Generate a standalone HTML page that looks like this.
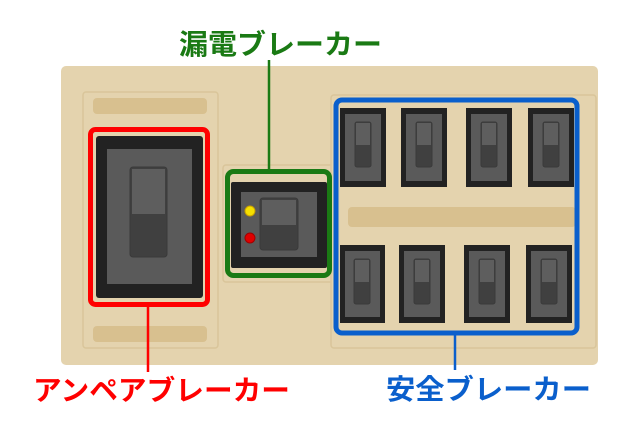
<!DOCTYPE html>
<html><head><meta charset="utf-8"><style>
html,body{margin:0;padding:0;background:#fff;}
svg{display:block;}
text{font-family:"Liberation Sans","Noto Sans CJK JP",sans-serif;font-weight:bold;font-size:28px;}
</style></head><body>
<svg width="640" height="427" viewBox="0 0 640 427" xmlns="http://www.w3.org/2000/svg">
<rect x="61" y="66" width="537" height="299" rx="5" fill="#e4d3ae"/>
<!-- left inner panel -->
<rect x="83" y="92" width="135" height="256" rx="3" fill="#e4d3ae" stroke="#d9c59a" stroke-width="1.5"/>
<rect x="93" y="98" width="114" height="16" rx="4" fill="#d8c08f"/>
<rect x="93" y="326" width="114" height="16" rx="4" fill="#d8c08f"/>
<!-- middle small panel -->
<rect x="223" y="165" width="112" height="117" rx="3" fill="#e4d3ae" stroke="#d9c59a" stroke-width="1.5"/>
<!-- right panel -->
<rect x="331" y="95" width="265" height="253" rx="3" fill="#e4d3ae" stroke="#d9c59a" stroke-width="1.5"/>
<rect x="348" y="207" width="228" height="20" rx="4" fill="#d8c08f"/>

<!-- ampere breaker -->
<rect x="96" y="136" width="107" height="162" rx="3" fill="#222"/>
<rect x="107" y="149" width="85" height="135" fill="#5a5a5a"/>
<rect x="130" y="167" width="37" height="90" rx="3" fill="#404040" stroke="#3a3a3a"/>
<rect x="132" y="169" width="33" height="45" fill="#5e5e5e"/>
<rect x="90.5" y="129.5" width="117" height="175" rx="5" fill="none" stroke="#f00" stroke-width="5"/>
<line x1="148" y1="307" x2="148" y2="372" stroke="#f00" stroke-width="2.5"/>

<!-- leak breaker -->
<rect x="231" y="182" width="96" height="86" rx="2" fill="#222"/>
<rect x="241" y="192" width="76" height="65" fill="#5a5a5a"/>
<rect x="260" y="198" width="38" height="52" rx="3" fill="#404040" stroke="#3a3a3a"/>
<rect x="262" y="200" width="34" height="25" fill="#5e5e5e"/>
<circle cx="250" cy="211" r="5" fill="#f5e000" stroke="#c9a000"/>
<circle cx="250" cy="238" r="5" fill="#e00000" stroke="#a00000"/>
<rect x="227.5" y="171.5" width="102" height="104" rx="6" fill="none" stroke="#1a7a14" stroke-width="5"/>
<line x1="269" y1="60" x2="269" y2="170" stroke="#1a7a14" stroke-width="2.5"/>

<!-- safety breakers -->
<g id="b">
</g>
<g fill="#222">
<rect x="340" y="108" width="46" height="79"/><rect x="401" y="108" width="46" height="79"/><rect x="466" y="108" width="46" height="79"/><rect x="528" y="108" width="46" height="79"/>
<rect x="340" y="245" width="45" height="78"/><rect x="399" y="245" width="46" height="78"/><rect x="464" y="245" width="46" height="78"/><rect x="526" y="245" width="46" height="78"/>
</g>
<g fill="#5a5a5a">
<rect x="345" y="114" width="36" height="67"/><rect x="406" y="114" width="36" height="67"/><rect x="471" y="114" width="36" height="67"/><rect x="533" y="114" width="36" height="67"/>
<rect x="345" y="251" width="35" height="66"/><rect x="404" y="251" width="36" height="66"/><rect x="469" y="251" width="36" height="66"/><rect x="531" y="251" width="36" height="66"/>
</g>
<g fill="#404040" stroke="#3a3a3a">
<rect x="355" y="122" width="16" height="45" rx="2"/><rect x="416" y="122" width="16" height="45" rx="2"/><rect x="481" y="122" width="16" height="45" rx="2"/><rect x="543" y="122" width="16" height="45" rx="2"/>
<rect x="354" y="259" width="16" height="45" rx="2"/><rect x="414" y="259" width="16" height="45" rx="2"/><rect x="479" y="259" width="16" height="45" rx="2"/><rect x="541" y="259" width="16" height="45" rx="2"/>
</g>
<g fill="#5e5e5e">
<rect x="356" y="123" width="14" height="22"/><rect x="417" y="123" width="14" height="22"/><rect x="482" y="123" width="14" height="22"/><rect x="544" y="123" width="14" height="22"/>
<rect x="355" y="260" width="14" height="22"/><rect x="415" y="260" width="14" height="22"/><rect x="480" y="260" width="14" height="22"/><rect x="542" y="260" width="14" height="22"/>
</g>
<rect x="336" y="100" width="241" height="233" rx="6" fill="none" stroke="#0a5fcc" stroke-width="5"/>
<line x1="455" y1="335" x2="455" y2="370" stroke="#0a5fcc" stroke-width="2.5"/>

<text x="179" y="54" fill="#1a7a14" textLength="203" lengthAdjust="spacingAndGlyphs">漏電ブレーカー</text>
<text x="33" y="400" fill="#f00" textLength="257" lengthAdjust="spacingAndGlyphs">アンペアブレーカー</text>
<text x="386" y="399" fill="#0a5fcc" textLength="205" lengthAdjust="spacingAndGlyphs">安全ブレーカー</text>
</svg>
</body></html>
